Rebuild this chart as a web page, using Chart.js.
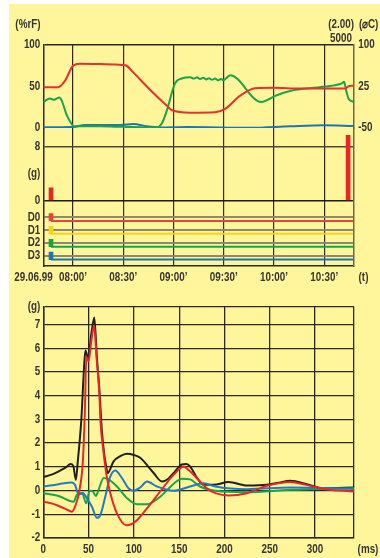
<!DOCTYPE html>
<html>
<head>
<meta charset="utf-8">
<script src="https://cdn.jsdelivr.net/npm/chart.js@4.4.0/dist/chart.umd.min.js"></script>
<style>
  html, body { margin: 0; padding: 0; background: #fff; }
  #sheet { position: absolute; left: 9px; top: 4px; width: 371px; height: 554px; background: #fff59b; }
  #top { position: absolute; left: 0; top: 0; }
  #bottom { position: absolute; left: 0; top: 285px; }
</style>
</head>
<body>
<div id="sheet"></div>
<canvas id="top" width="380" height="290"></canvas>
<canvas id="bottom" width="380" height="273"></canvas>
<script>
// ---- top chart: climate log (minutes since midnight) ----
const timeTicks  = [480, 510, 540, 570, 600, 630];
const timeLabels = ["08:00’", "08:30’", "09:00’", "09:30’", "10:00’", "10:30’"];
const timeMin = 462.3, timeMax = 647.3;

const redTime = [462.3, 471.1, 475.3, 480, 484.2, 496.2, 509.3, 512, 516, 526, 535.9, 539.1, 549.9, 564.8, 570.8, 579.8, 588.7, 599.5, 615.6, 639.5, 642.5, 644.3, 647.3];
const redVal  = [49, 49, 57, 75, 77.5, 77, 76, 75, 67, 46, 27, 21.4, 18.5, 19, 23, 39, 48, 48.5, 47.5, 47.5, 47.5, 50, 51];

const greenTime = [462.3, 466.3, 468.3, 470.3, 471.9, 473.3, 476.3, 479.3, 480.6, 496.2, 509.7, 530.0, 533.0, 536.0, 540.9, 544.9,
                   549.9, 552.3, 554.1, 555.9, 557.7, 559.4, 561.2, 563.0, 564.8, 566.6, 568.4, 569.8, 571.4, 573.8,
                   592.3, 601.6, 609.6, 629.5, 640.4, 641.8, 643.0, 644.4, 647.3];
const greenVal  = [31.4, 35.5, 34, 35.5, 36.7, 33, 15.4, 4.5, 2, 2, 1.4, 0.6, 5.3, 21, 53.7, 59.7,
                   61, 59.5, 61, 59, 60.5, 58.5, 60, 58, 59.5, 57.5, 59, 57.5, 60, 63.7,
                   31.4, 39.5, 44.7, 49.6, 53.7, 55.6, 45.6, 35.5, 31.4];

const blueTime = [462.3, 480, 487.2, 508.1, 516, 524, 532, 547.9, 585.7, 609.6, 629.5, 647.3];
const blueVal  = [0.8, 1.2, 3.6, 3.6, 4.8, 2, 0.6, 1.2, 0.2, 2, 3.2, 2.4];

const shockTime = [466.9, 644.2];
const shockPeak = [1.9, 9.7];

const channelNames  = ['D0', 'D1', 'D2', 'D3'];
const channelLevels = [3, 2, 1, 0];
const channelStart  = 466.9;

// ---- bottom chart: shock pulse ----
const blackMs = [0, 10, 17, 25, 30, 33, 36, 38, 42, 45, 46.5, 49.5, 53, 56.3, 59, 62, 64.5, 67, 69.5, 71, 77.6, 85, 92.4, 100, 107, 115, 121.8, 131, 138, 144, 153, 158, 162, 170, 177, 188, 204.6, 224.8, 247, 260, 272.6, 291, 309, 343];
const blackG  = [0.57, 0.68, 0.81, 0.98, 1.12, 1.05, 0.45, 1.2, 3.0, 5.2, 5.9, 5.6, 6.6, 7.3, 5.7, 4.2, 2.6, 1.6, 1.0, 0.74, 1.23, 1.45, 1.55, 1.5, 1.38, 1.05, 0.74, 0.38, 0.5, 0.74, 1.1, 1.12, 1.02, 0.52, 0.24, 0.24, 0.36, 0.21, 0.24, 0.33, 0.41, 0.27, 0.1, 0.13];

const redMs = [0, 10, 17, 25, 31.6, 35, 40, 43.8, 46, 47.5, 50, 53, 56, 59, 62, 63, 66.6, 70, 74, 81.3, 91.6, 97, 103.4, 114.5, 129, 144, 155, 162, 173, 182, 190, 204.6, 224.8, 247, 272.6, 289, 309, 343];
const redG  = [-0.47, -0.55, -0.65, -0.78, -0.89, -0.68, 0.03, 1.31, 3.5, 5.63, 5.45, 6.3, 6.95, 5.5, 4.0, 3.0, 1.59, 0.6, -0.11, -0.96, -1.46, -1.42, -1.25, -0.75, -0.04, 0.67, 1.0, 0.81, 0.38, 0.05, -0.11, -0.21, -0.11, 0.2, 0.36, 0.25, 0.07, -0.04];

const greenMs = [0, 17, 33.5, 37, 42.7, 47.5, 51, 55, 58, 61, 66.6, 72, 81.3, 92.4, 103.4, 114.5, 129, 144, 153, 162, 173, 190, 224.8, 272.6, 343];
const greenG  = [-0.11, -0.23, -0.47, -0.18, -0.1, -0.54, -0.01, -0.05, -0.23, 0.03, 0.53, 0.47, 0.17, -0.32, -0.58, -0.58, -0.26, 0.29, 0.5, 0.47, 0.17, -0.01, -0.07, 0.03, 0.1];

const blueMs = [0, 17, 31.6, 35, 39, 43.8, 48, 53.7, 59.2, 63, 68.4, 74, 79.5, 86.8, 94, 99.7, 107, 114.5, 125.5, 144, 162, 177, 190, 224.8, 272.6, 343];
const blueG  = [0.17, 0.27, 0.34, 0.24, -0.18, -0.1, -0.32, -0.68, -1.15, -1.03, -0.26, 0.6, 0.85, 0.53, 0.1, -0.01, 0.13, 0.38, 0.17, -0.01, 0.17, 0.31, 0.17, 0.06, 0.13, 0.07];

const msTicks = [0, 50, 100, 150, 200, 250, 300];
const msMax = 343;
const gTicks = [-2, -1, 0, 1, 2, 3, 4, 5, 6, 7];
const gMax = 7.75;

// ---- font: a narrow face if there is one, else Liberation Sans squeezed ----
function textWidth(font) {
  const c = document.createElement('canvas').getContext('2d');
  c.font = font;
  return c.measureText('29.06.99 08:00').width;
}
let FONT = "'Liberation Sans Narrow', sans-serif";
let condense = 1;
if (textWidth('12px "Liberation Sans Narrow", monospace') === textWidth('12px monospace')) {
  FONT = "'Liberation Sans', Arial, sans-serif";
  condense = 0.82;
}
function narrowText(canvas) {
  const ctx = canvas.getContext('2d');
  const fill = ctx.fillText.bind(ctx);
  ctx.fillText = function (text, x, y) {
    this.save();
    this.translate(x, y);
    this.scale(condense, 1);
    fill(text, 0, 0);
    this.restore();
  };
}

Chart.defaults.font.family = FONT;
Chart.defaults.font.size = 12;
Chart.defaults.font.weight = 'bold';
Chart.defaults.color = '#363530';
const GRID = '#2c2a20';

const zip = (xs, ys) => xs.map((x, i) => ({x: x, y: ys[i]}));

const extraText = {
  id: 'extraText',
  afterDraw(chart, args, opts) {
    const ctx = chart.ctx;
    ctx.save();
    ctx.font = 'bold 12px ' + FONT;
    ctx.fillStyle = '#363530';
    ctx.textBaseline = 'middle';
    opts.items.forEach(t => {
      ctx.textAlign = t.align;
      ctx.fillText(t.text, t.x, t.y);
    });
    ctx.restore();
  }
};

function lineSet(data, color, axis, order) {
  return {type: 'line', data: data, borderColor: color, borderWidth: 2, pointRadius: 0,
          cubicInterpolationMode: 'monotone', yAxisID: axis, order: order || 0};
}

const channelColors = ['#e9443a', '#f6d31a', '#12a64b', '#1d74bb'];

const topCanvas = document.getElementById('top');
const bottomCanvas = document.getElementById('bottom');
narrowText(topCanvas);
narrowText(bottomCanvas);

const topChart = new Chart(topCanvas, {
  type: 'line',
  data: {
    datasets: [
      lineSet(zip(blueTime, blueVal), '#1b75bb', 'y', 3),
      lineSet(zip(greenTime, greenVal), '#19a449', 'y', 2),
      lineSet(zip(redTime, redVal), '#e8302f', 'y', 1),
      {type: 'bar', data: zip(shockTime, shockPeak), backgroundColor: '#e8262a', barThickness: 4,
       grouped: false, yAxisID: 'yG'},
      {type: 'bar', data: channelLevels.map(l => ({x: channelStart, y: [l - 0.28, l + 0.3]})),
       backgroundColor: channelColors, barThickness: 4, grouped: false, yAxisID: 'yD'},
      ...channelLevels.map((l, i) => lineSet([{x: channelStart, y: l - 0.28}, {x: timeMax, y: l - 0.28}],
                                             channelColors[i], 'yD', 5))
    ]
  },
  options: {
    responsive: false,
    animation: false,
    events: [],
    layout: {padding: {top: 45, left: 0, right: 0, bottom: 0}},
    plugins: {
      legend: {display: false},
      tooltip: {enabled: false},
      extraText: {items: [
        {text: '(%rF)', x: 40.5, y: 24.5, align: 'right'},
        {text: '(2.00)', x: 354, y: 24.5, align: 'right'},
        {text: '5000', x: 352, y: 38.5, align: 'right'},
        {text: '(⌀C)', x: 359, y: 24.5, align: 'left'},
        {text: '29.06.99', x: 33.5, y: 277.5, align: 'center'},
        {text: '(t)', x: 363.5, y: 277.5, align: 'center'}
      ]}
    },
    scales: {
      x: {
        type: 'linear', min: timeMin, max: timeMax, offset: false,
        afterBuildTicks: s => { s.ticks = timeTicks.map(v => ({value: v})); },
        ticks: {callback: (v, i) => timeLabels[i], autoSkip: false, maxRotation: 0, padding: 4},
        grid: {color: GRID, lineWidth: 1.2, drawTicks: false, offset: false},
        border: {color: GRID, width: 1.5},
        afterFit: s => { s.height = 24; }
      },
      y: {
        type: 'linear', position: 'left', stack: 'L', stackWeight: 83, weight: 3, min: 0, max: 100,
        afterBuildTicks: s => { s.ticks = [0, 50, 100].map(v => ({value: v})); },
        ticks: {padding: 3, autoSkip: false},
        grid: {drawTicks: false, lineWidth: 1.5, color: c => (c.tick && c.tick.value === 100) ? GRID : 'transparent'},
        border: {color: GRID, width: 1.5},
        afterFit: s => { s.width = 43.3; }
      },
      yG: {
        type: 'linear', position: 'left', stack: 'L', stackWeight: 72.7, weight: 2, min: 0, max: 10.77,
        afterBuildTicks: s => { s.ticks = [0, 4, 8].map(v => ({value: v})); },
        ticks: {padding: 3, autoSkip: false, callback: v => v === 4 ? '(g)' : String(v)},
        grid: {drawTicks: false, lineWidth: 1.5,
               color: c => !c.tick ? 'transparent' : c.tick.value === 0 ? '#1c1b15' : c.tick.value === 8 ? '#4a4836' : 'transparent'},
        border: {color: GRID, width: 1.5},
        afterFit: s => { s.width = 43.3; }
      },
      yD: {
        type: 'linear', position: 'left', stack: 'L', stackWeight: 65.3, weight: 1, min: -0.775, max: 4.29,
        afterBuildTicks: s => { s.ticks = channelLevels.map(v => ({value: v})); },
        ticks: {padding: 3, autoSkip: false, callback: v => channelNames[channelLevels.indexOf(v)]},
        grid: {drawTicks: false, lineWidth: 2, color: '#8d8a6c'},
        border: {color: GRID, width: 1.5},
        afterFit: s => { s.width = 43.3; }
      },
      yR: {
        type: 'linear', position: 'right', stack: 'R', stackWeight: 83, weight: 1, min: -50, max: 100,
        afterBuildTicks: s => { s.ticks = [-50, 25, 100].map(v => ({value: v})); },
        ticks: {padding: 5, autoSkip: false},
        grid: {display: false, drawTicks: false},
        border: {color: '#6b6850', width: 1.5},
        afterFit: s => { s.width = 26.7; }
      },
      yR2: {
        type: 'linear', position: 'right', stack: 'R', stackWeight: 138, weight: 2, min: 0, max: 1,
        ticks: {display: false},
        grid: {display: false, drawTicks: false},
        border: {color: '#6b6850', width: 1.5},
        afterFit: s => { s.width = 26.7; }
      }
    }
  },
  plugins: [extraText]
});

const bottomChart = new Chart(bottomCanvas, {
  type: 'line',
  data: {
    datasets: [
      lineSet(zip(blackMs, blackG), '#211f1c', 'y', 4),
      lineSet(zip(greenMs, greenG), '#19a449', 'y', 3),
      lineSet(zip(blueMs, blueG), '#1e7cc6', 'y', 2),
      lineSet(zip(redMs, redG), '#e8262a', 'y', 1)
    ]
  },
  options: {
    responsive: false,
    animation: false,
    events: [],
    layout: {padding: {top: 21.7, left: 0, right: 26, bottom: 0}},
    plugins: {
      legend: {display: false},
      tooltip: {enabled: false},
      extraText: {items: [
        {text: '(ms)', x: 368, y: 264.5, align: 'center'}
      ]}
    },
    scales: {
      x: {
        type: 'linear', min: 0, max: msMax,
        afterBuildTicks: s => { s.ticks = msTicks.concat([msMax]).map(v => ({value: v})); },
        ticks: {callback: v => v === msMax ? '' : String(v), autoSkip: false, maxRotation: 0, padding: 4},
        grid: {color: GRID, lineWidth: 1.3, drawTicks: false},
        border: {color: GRID, width: 1.5},
        afterFit: s => { s.height = 20; }
      },
      y: {
        type: 'linear', min: -2, max: gMax,
        afterBuildTicks: s => { s.ticks = gTicks.concat([gMax]).map(v => ({value: v})); },
        ticks: {callback: v => v === gMax ? '(g)' : String(v), autoSkip: false, padding: 3},
        grid: {color: GRID, lineWidth: 1.3, drawTicks: false},
        border: {color: GRID, width: 1.5},
        afterFit: s => { s.width = 43.3; }
      }
    }
  },
  plugins: [extraText]
});
</script>
</body>
</html>
